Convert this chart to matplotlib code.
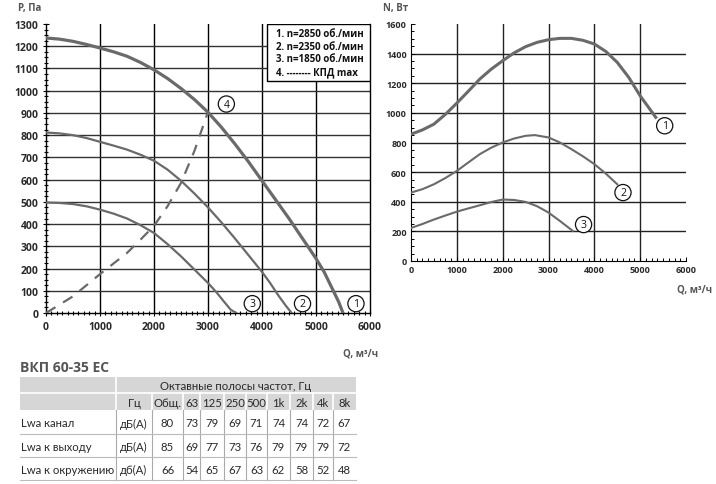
import matplotlib.pyplot as plt
from matplotlib.patches import Rectangle
from matplotlib.ticker import MultipleLocator

# --- data ---
# P(Q) curves, left chart
q1 = [0, 250, 500, 750, 1000, 1250, 1500, 1750, 2000, 2250, 2500, 2750, 3000, 3250, 3500,
      3750, 4000, 4250, 4500, 4750, 5000, 5150, 5300, 5420, 5500]
p1 = [1237, 1232, 1222, 1208, 1192, 1175, 1155, 1127, 1094, 1055, 1010, 960, 903, 835, 760,
      680, 595, 510, 425, 335, 245, 185, 110, 50, 0]
q2 = [0, 250, 500, 750, 1000, 1250, 1500, 1750, 2000, 2250, 2500, 2750, 3000, 3250, 3500,
      3750, 4000, 4150, 4300, 4450, 4550]
p2 = [812, 808, 800, 787, 770, 753, 735, 712, 685, 645, 595, 537, 475, 407, 335,
      260, 185, 135, 80, 30, 0]
q3 = [0, 250, 500, 750, 1000, 1250, 1500, 1750, 2000, 2250, 2500, 2750, 3000, 3150, 3300, 3420, 3520]
p3 = [497, 495, 490, 480, 465, 447, 425, 395, 360, 310, 255, 195, 135, 95, 50, 15, 0]
q_kpd = [0, 500, 1000, 1500, 1750, 2000, 2250, 2500, 2750, 3000]
p_kpd = [0, 75, 175, 270, 330, 392, 480, 585, 730, 905]

# N(Q) curves, right chart
nq1 = [0, 250, 500, 750, 1000, 1250, 1500, 1750, 2000, 2250, 2500, 2750, 3000, 3250, 3500,
       3750, 4000, 4250, 4500, 4750, 5000, 5200, 5340]
n1 = [856, 885, 924, 990, 1066, 1146, 1228, 1295, 1352, 1405, 1447, 1476, 1494, 1503, 1503,
      1490, 1465, 1415, 1341, 1240, 1115, 1030, 970]
nq2 = [0, 250, 500, 750, 1000, 1250, 1500, 1750, 2000, 2250, 2500, 2700, 3000, 3250, 3500,
       3750, 4000, 4250, 4500]
n2 = [462, 485, 518, 560, 608, 665, 721, 765, 800, 827, 845, 850, 834, 800, 755,
      707, 654, 590, 518]
nq3 = [0, 250, 500, 750, 1000, 1250, 1500, 1750, 2000, 2250, 2500, 2750, 3000, 3250, 3530]
n3 = [223, 250, 280, 307, 333, 355, 376, 398, 415, 412, 399, 370, 327, 270, 203]

legenda = ['1. n=2850 об./мин', '2. n=2350 об./мин', '3. n=1850 об./мин', '4. -------- КПД max']

# noise table
titulo = 'ВКП 60-35 ЕС'
cab_bandas = 'Октавные полосы частот, Гц'
colunas = ['Гц', 'Общ.', '63', '125', '250', '500', '1k', '2k', '4k', '8k']
linhas = ['Lwa канал', 'Lwa к выходу', 'Lwa к окружению']
unidades = ['дБ(А)', 'дБ(А)', 'дб(А)']
valores = [[80, 73, 79, 69, 71, 74, 74, 72, 67],
           [85, 69, 77, 73, 76, 79, 79, 79, 72],
           [66, 54, 65, 67, 63, 62, 58, 52, 48]]

plt.rcParams['font.family'] = ['Open Sans', 'DejaVu Sans']

W, H = 716, 485
fig = plt.figure(figsize=(W / 100, H / 100), dpi=100)

def caixa(x0, y0, x1, y1):
    # pixel box -> figure fraction
    return [x0 / W, 1 - y1 / H, (x1 - x0) / W, (y1 - y0) / H]

cor_curva = '#6a6a6a'
cor_txt = '#2a2a2a'

def circulo(ax, x, y, s):
    ax.text(x, y, s, ha='center', va='center', fontsize=7.5, color='#111', zorder=6,
            bbox=dict(boxstyle='circle,pad=0.25', fc='white', ec='#111', lw=0.9))

# --- left chart ---
ax = fig.add_axes(caixa(46, 25, 370, 314))
ax.set_xlim(0, 6000)
ax.set_ylim(0, 1300)
for x in range(1000, 6000, 1000):
    ax.axvline(x, color='black', lw=1.0, zorder=1)
for y in range(100, 1300, 100):
    ax.axhline(y, color='#333', lw=1.0, zorder=1)
ax.plot(q1, p1, color=cor_curva, lw=2.3, zorder=3)
ax.plot(q2, p2, color=cor_curva, lw=1.6, zorder=3)
ax.plot(q3, p3, color=cor_curva, lw=1.6, zorder=3)
ax.plot(q_kpd, p_kpd, color=cor_curva, lw=1.6, ls=(0, (5, 4)), zorder=3)
circulo(ax, 5740, 42, '1')
circulo(ax, 4750, 42, '2')
circulo(ax, 3820, 42, '3')
circulo(ax, 3340, 940, '4')

ax.add_patch(Rectangle((4090, 1045), 1910, 255, fc='white', ec='black', lw=1.0, zorder=4))
for i, t in enumerate(legenda):
    ax.text(4250, 1258 - i * 57, t, fontsize=7, fontweight='bold', color='#111',
            va='center', zorder=5)

ax.spines['top'].set_visible(False)
for s in ['left', 'bottom', 'right']:
    ax.spines[s].set_color('black')
    ax.spines[s].set_linewidth(1.0)
ax.xaxis.set_major_locator(MultipleLocator(1000))
ax.xaxis.set_minor_locator(MultipleLocator(100))
ax.yaxis.set_major_locator(MultipleLocator(100))
ax.yaxis.set_minor_locator(MultipleLocator(25))
ax.tick_params(which='both', direction='inout', colors='black', width=0.8)
ax.tick_params(which='major', length=5, labelsize=7.5, labelcolor=cor_txt, pad=3)
ax.tick_params(which='minor', length=3)
ax.tick_params(axis='y', right=False)
for lab in ax.get_xticklabels() + ax.get_yticklabels():
    lab.set_fontweight('bold')

# --- right chart ---
ax2 = fig.add_axes(caixa(411, 25, 686, 262))
ax2.set_xlim(0, 6000)
ax2.set_ylim(0, 1600)
for x in range(1000, 6000, 1000):
    ax2.axvline(x, color='#222', lw=1.0, zorder=1)
for y in range(200, 1600, 200):
    ax2.axhline(y, color='#222', lw=1.0, zorder=1)
ax2.plot(nq1, n1, color=cor_curva, lw=2.2, zorder=3)
ax2.plot(nq2, n2, color=cor_curva, lw=1.5, zorder=3)
ax2.plot(nq3, n3, color=cor_curva, lw=1.5, zorder=3)
circulo(ax2, 5535, 913, '1')
circulo(ax2, 4625, 462, '2')
circulo(ax2, 3765, 246, '3')

ax2.spines['top'].set_visible(False)
ax2.spines['right'].set_visible(False)
ax2.xaxis.set_major_locator(MultipleLocator(1000))
ax2.xaxis.set_minor_locator(MultipleLocator(125))
ax2.yaxis.set_major_locator(MultipleLocator(200))
ax2.yaxis.set_minor_locator(MultipleLocator(50))
ax2.tick_params(which='both', direction='in', colors='black', width=0.7)
ax2.tick_params(which='major', length=3, labelsize=6.5, labelcolor=cor_txt, pad=3)
ax2.tick_params(which='minor', length=2.5)
for lab in ax2.get_xticklabels() + ax2.get_yticklabels():
    lab.set_fontweight('bold')

# --- axis titles and table on an overlay in pixel coordinates ---
ov = fig.add_axes([0, 0, 1, 1], zorder=-1)
ov.set_xlim(0, W)
ov.set_ylim(H, 0)
ov.axis('off')

rot = dict(fontsize=7, fontweight='bold', color='#555')
ov.text(18, 9, 'P, Па', va='center', **rot)
ov.text(383, 9, 'N, Вт', va='center', **rot)
ov.text(378, 354, 'Q, м³/ч', ha='right', va='center', **rot)
ov.text(712, 290, 'Q, м³/ч', ha='right', va='center', **rot)

ov.text(20, 368, titulo, fontsize=10, fontweight='bold', color='#555', va='center')

bordas = [20, 116, 152, 183, 200, 224, 246, 267, 290, 313, 333, 356]
y_cab = [378, 394, 411]
y_lin = [411, 435, 458, 481]
cinza = '#d6d6d6'
ov.add_patch(Rectangle((20, y_cab[0]), 336, y_cab[2] - y_cab[0], fc=cinza, ec='none'))
ov.plot([20, 356], [y_cab[1], y_cab[1]], color='white', lw=1.2)
ov.plot([116, 116], [y_cab[0], y_cab[2]], color='white', lw=1.2)
for x in bordas[2:-1]:
    ov.plot([x, x], [y_cab[1], y_cab[2]], color='white', lw=1.2)
for x in bordas[1:-1]:
    ov.plot([x, x], [y_lin[0], y_lin[-1]], color='#aaa', lw=0.8)
for y in y_lin[1:]:
    ov.plot([20, 356], [y, y], color='#bbb', lw=0.8)

fs = 8.2
tab = dict(fontsize=fs, color=cor_txt, family=['Lato', 'DejaVu Sans'], va='center')
ov.text((116 + 356) / 2, (y_cab[0] + y_cab[1]) / 2 + 1, cab_bandas, ha='center', **tab)
for j, c in enumerate(colunas):
    xc = (bordas[j + 1] + bordas[j + 2]) / 2
    ov.text(xc, (y_cab[1] + y_cab[2]) / 2 + 1, c, ha='center', **tab)
for i, nome in enumerate(linhas):
    yc = (y_lin[i] + y_lin[i + 1]) / 2 + 1
    ov.text(21, yc, nome, ha='left', **tab)
    ov.text((bordas[1] + bordas[2]) / 2, yc, unidades[i], ha='center', **tab)
    for j, v in enumerate(valores[i]):
        xc = (bordas[j + 2] + bordas[j + 3]) / 2
        ov.text(xc, yc, str(v), ha='center', **tab)

fig.savefig('out.png', dpi=100)
